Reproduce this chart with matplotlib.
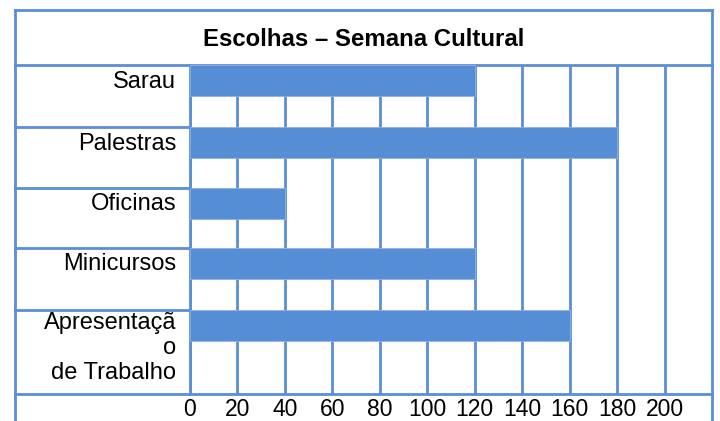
import numpy as np
import matplotlib
matplotlib.use("Agg")
import matplotlib.pyplot as plt

plt.rcParams['font.family'] = ['Liberation Sans', 'DejaVu Sans']

# Data
title = "Escolhas – Semana Cultural"
categories = ["Sarau", "Palestras", "Oficinas", "Minicursos", "Apresentaçã\no\nde Trabalho"]
values = [120, 180, 40, 120, 160]
ticks = [0, 20, 40, 60, 80, 100, 120, 140, 160, 180, 200]

# layout (pixels of a 720x421 figure)
W, H = 720, 421
line_col = "#5A8ED8"
bar_col = "#558ED5"
lw = 2.0
row_h = np.array([62, 61, 60, 62, 84])
row_top = np.concatenate([[0], np.cumsum(row_h)[:-1]])
left, right, top, title_bot, plot_bot, col_x = 15, 712, 10, 65, 394, 190

fig = plt.figure(figsize=(W / 100, H / 100), dpi=100)

# background axes in pixel coordinates for table lines
bg = fig.add_axes([0, 0, 1, 1])
bg.set_xlim(0, W)
bg.set_ylim(H, 0)
bg.axis("off")
bg.plot([left, left], [top, H], color=line_col, lw=lw)
bg.plot([right, right], [top, H], color=line_col, lw=lw)
bg.plot([left, right], [top, top], color=line_col, lw=lw)
bg.plot([left, right], [title_bot, title_bot], color=line_col, lw=lw)
bg.plot([left, right], [plot_bot, plot_bot], color=line_col, lw=lw)
bg.plot([col_x, col_x], [title_bot, plot_bot], color=line_col, lw=lw)
for t in row_top[1:]:
    bg.plot([left, col_x], [title_bot + t, title_bot + t], color=line_col, lw=lw)
bg.text((left + right) / 2, (top + title_bot) / 2 + 2, title, ha="center", va="center",
        fontsize=17.3, fontweight="bold")

# plot area
ax = fig.add_axes([col_x / W, (H - plot_bot) / H, (right - col_x) / W, (plot_bot - title_bot) / H])
ax.set_xlim(0, 220)
ax.set_ylim(plot_bot - title_bot, 0)
ax.patch.set_alpha(0)
for s in ax.spines.values():
    s.set_visible(False)
ax.vlines(ticks, 0, plot_bot - title_bot, color=line_col, lw=lw, zorder=1)
ax.barh(row_top, values, height=31, align="edge", color=bar_col,
        edgecolor="#8DB3E6", linewidth=0.6, zorder=2)
ax.set_xticks(ticks)
ax.set_xticklabels([str(t) for t in ticks], fontsize=16.5)
ax.tick_params(axis="x", length=0, pad=3)
ax.set_yticks([])

for cat, y in zip(categories, row_top):
    yc = y + 15.5
    if "\n" in cat:
        ax.annotate(cat, xy=(0, yc), xytext=(-14, 13), textcoords="offset pixels",
                    ha="right", va="top", multialignment="right", fontsize=17,
                    linespacing=1.15, annotation_clip=False)
    else:
        ax.annotate(cat, xy=(0, yc), xytext=(-14, -1), textcoords="offset pixels",
                    ha="right", va="center", fontsize=17, annotation_clip=False)

fig.savefig("out.png", dpi=100)
